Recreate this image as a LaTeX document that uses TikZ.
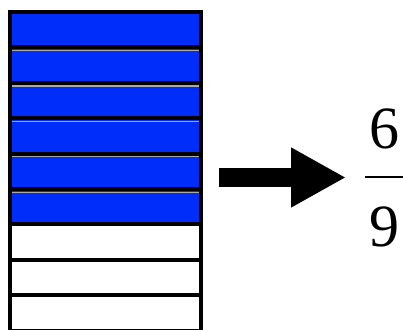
\documentclass[tikz,border=0pt]{standalone}
\usepackage{fontspec}
\setmainfont{Liberation Serif}
\usetikzlibrary{arrows.meta}
\definecolor{cellblue}{RGB}{0,45,250}
\definecolor{seamgray}{RGB}{170,170,170}
\tikzset{
  cell/.style={draw=black, line width=4pt, minimum width=191pt, minimum height=35.4pt,
               inner sep=0pt, outer sep=0pt},
  seam/.style={draw=seamgray, line width=1.2pt},
  bigarrow/.style={line width=19pt, -{Triangle[length=55pt,width=56pt]}},
  digit/.style={font=\fontsize{60}{60}\selectfont, inner sep=0pt, anchor=base},
  fracbar/.style={line width=2.6pt}
}
\begin{document}
\begin{tikzpicture}[x=1pt,y=1pt]
  \useasboundingbox (0,0) rectangle (403,329);
  % column of nine cells, six shaded
  \foreach \i in {1,...,9}{
    \pgfmathsetmacro{\yc}{317-35.4*(\i-1)-17.7}
    \ifnum\i<7
      \node[cell, fill=cellblue] (c\i) at (105.5,\yc) {};
    \else
      \node[cell, fill=white] (c\i) at (105.5,\yc) {};
    \fi
  }
  % light seams under the dividers of the shaded cells
  \foreach \i in {2,...,6}{
    \draw[seam] ([xshift=2pt,yshift=-3.2pt]c\i.north west) -- ([xshift=-2pt,yshift=-3.2pt]c\i.north east);
  }
  % arrow
  \coordinate (arrowstart) at (219,151.5);
  \coordinate (arrowtip) at (346,151.5);
  \draw[bigarrow] (arrowstart) -- (arrowtip);
  % fraction 6/9
  \node[digit] (num) at (384.5,180) {6};
  \node[digit] (den) at (384.5,83) {9};
  \coordinate (barleft) at (365,152);
  \coordinate (barright) at (403,152);
  \draw[fracbar] (barleft) -- (barright);
\end{tikzpicture}
\end{document}
